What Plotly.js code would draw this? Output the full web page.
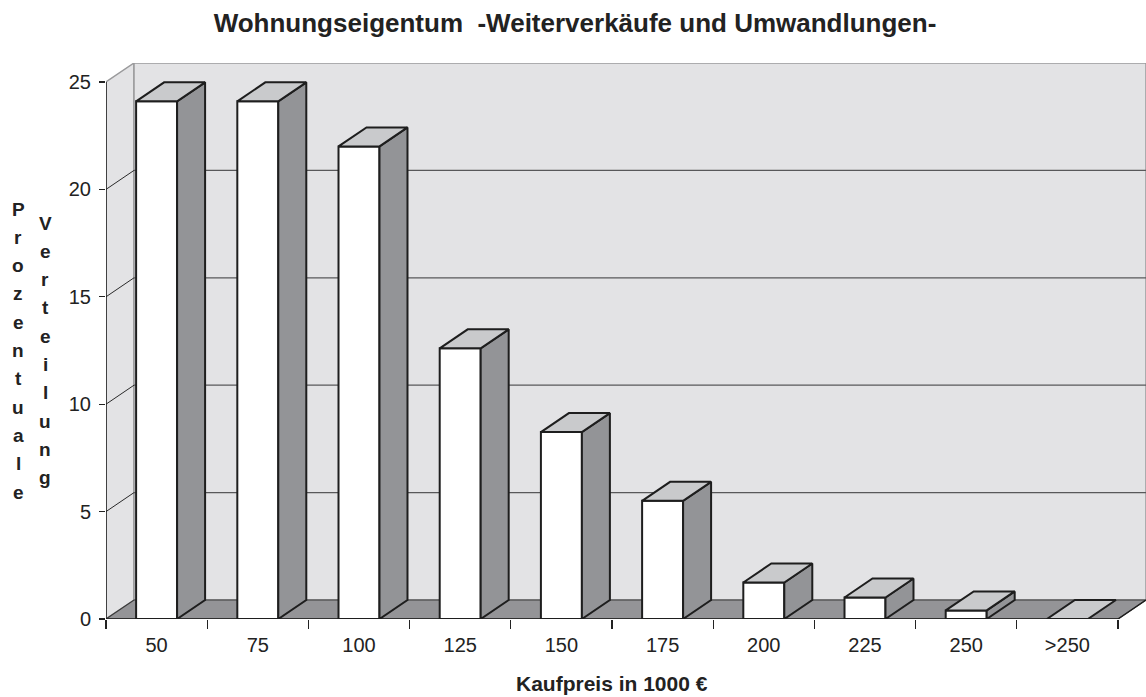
<!DOCTYPE html>
<html>
<head>
<meta charset="utf-8">
<script src="https://cdn.plot.ly/plotly-3.0.1.min.js"></script>
<style>html,body{margin:0;padding:0;background:#fff;}#chart{width:1146px;height:697px;}</style>
</head>
<body>
<div id="chart"></div>
<script>
// ---- data ----
var categories = ['50', '75', '100', '125', '150', '175', '200', '225', '250', '>250'];
var shares = [24.1, 24.1, 22.0, 12.6, 8.7, 5.5, 1.7, 1.0, 0.4, 0];
var yTicks = [0, 5, 10, 15, 20, 25];
var titleText = 'Wohnungseigentum \u00a0-Weiterverkäufe und Umwandlungen-';
var xTitle = 'Kaufpreis in 1000 €';
var yTitle1 = 'Prozentuale';
var yTitle2 = 'Verteilung';

// ---- 3D geometry (depth offset in axis units) ----
var DX = 0.2767, DY = 0.8845, BW = 0.405;
var YMAX = 25;
var n = categories.length;
var xs = categories.map(function (c, i) { return i; });

// side and top faces of each bar
var sideX = [], sideY = [], topX = [], topY = [];
shares.forEach(function (v, i) {
  var l = i - BW / 2, r = i + BW / 2;
  if (v > 0) {
    sideX.push(r, r, r + DX, r + DX, r, null);
    sideY.push(0, v, v + DY, DY, 0, null);
  }
  topX.push(l, r, r + DX, l + DX, l, null);
  topY.push(v, v, v + DY, v + DY, v, null);
});

var edge = '#1e1e1e';
var traces = [
  { type: 'bar', x: xs, y: shares, width: BW,
    marker: { color: '#ffffff', line: { color: edge, width: 2 } },
    hoverinfo: 'skip', showlegend: false },
  { type: 'scatter', mode: 'lines', x: sideX, y: sideY, fill: 'toself', fillcolor: '#939497',
    line: { color: edge, width: 2 }, hoverinfo: 'skip', showlegend: false },
  { type: 'scatter', mode: 'lines', x: topX, y: topY, fill: 'toself', fillcolor: '#c9cacc',
    line: { color: edge, width: 2 }, hoverinfo: 'skip', showlegend: false },
  { type: 'scatter', mode: 'markers', x: [0], y: [0], xaxis: 'x2', yaxis: 'y',
    marker: { opacity: 0 }, hoverinfo: 'skip', showlegend: false }
];

var x0 = -0.5, x1 = n - 0.5;
var shapes = [
  // side wall
  { type: 'path', xref: 'x', yref: 'y', layer: 'below',
    path: 'M' + x0 + ',0 L' + (x0 + DX) + ',' + DY + ' L' + (x0 + DX) + ',' + (YMAX + DY) + ' L' + x0 + ',' + YMAX + ' Z',
    fillcolor: '#e3e3e5', line: { color: '#9a9a9c', width: 1.5 } },
  // back wall
  { type: 'rect', xref: 'x', yref: 'y', layer: 'below',
    x0: x0 + DX, x1: x1 + DX, y0: DY, y1: YMAX + DY,
    fillcolor: '#e3e3e5', line: { color: '#9a9a9c', width: 1.5 } },
  // floor
  { type: 'path', xref: 'x', yref: 'y', layer: 'below',
    path: 'M' + x0 + ',0 L' + x1 + ',0 L' + (x1 + DX) + ',' + DY + ' L' + (x0 + DX) + ',' + DY + ' Z',
    fillcolor: '#949497', line: { color: '#3a3a3a', width: 1.2 } }
];
yTicks.forEach(function (t) {
  if (t > 0 && t < YMAX) {
    shapes.push({ type: 'line', xref: 'x', yref: 'y', layer: 'below',
      x0: x0 + DX, x1: x1 + DX, y0: t + DY, y1: t + DY, line: { color: '#58585a', width: 1.3 } });
    shapes.push({ type: 'line', xref: 'x', yref: 'y', layer: 'below',
      x0: x0, x1: x0 + DX, y0: t, y1: t + DY, line: { color: '#2a2a2a', width: 1 } });
  }
});
// front axis lines
shapes.push({ type: 'line', xref: 'x', yref: 'y', layer: 'below', x0: x0, x1: x0, y0: 0, y1: YMAX, line: { color: '#1e1e1e', width: 1.5 } });
shapes.push({ type: 'line', xref: 'x', yref: 'y', layer: 'below', x0: x0, x1: x1, y0: 0, y1: 0, line: { color: '#1e1e1e', width: 1.5 } });
shapes.push({ type: 'line', xref: 'x', yref: 'y', layer: 'below', x0: x1, x1: x1 + DX, y0: 0, y1: DY, line: { color: '#1e1e1e', width: 1.3 } });

// vertical stacked y-axis title letters (pixel placement converted to paper coords)
var plotTop = 63, plotBottom = 619, plotLeft = 106, plotW = 1040, plotH = 556;
function px(xp) { return (xp - plotLeft) / plotW; }
function py(yp) { return (plotBottom - yp) / plotH; }
var font = 'Liberation Sans, Arial, Helvetica, sans-serif';
var annotations = [];
function stack(word, xc, y0p, step) {
  word.split('').forEach(function (ch, k) {
    annotations.push({ text: '<b>' + ch + '</b>', xref: 'paper', yref: 'paper',
      x: px(xc), y: py(y0p + k * step), xanchor: 'center', yanchor: 'middle',
      showarrow: false, font: { family: font, size: 19, color: '#222' } });
  });
}
stack(yTitle1, 18, 209, 28.3);
stack(yTitle2, 45, 223, 28.3);
annotations.push({ text: '<b>' + xTitle + '</b>', xref: 'x', yref: 'paper',
  x: (n - 1) / 2, y: py(683), xanchor: 'center', yanchor: 'middle', showarrow: false,
  font: { family: font, size: 21, color: '#222' } });

var layout = {
  width: 1146, height: 697,
  margin: { l: plotLeft, r: 0, t: plotTop, b: 697 - plotBottom, pad: 0 },
  paper_bgcolor: '#ffffff', plot_bgcolor: '#ffffff',
  showlegend: false,
  title: { text: '<b>' + titleText + '</b>', xref: 'paper', x: px(575), xanchor: 'center',
    yref: 'container', y: 1 - 23 / 697, yanchor: 'middle',
    font: { family: font, size: 26, color: '#222' } },
  xaxis: { range: [x0, x1 + DX], tickvals: xs, ticktext: categories, ticks: '',
    showgrid: false, zeroline: false, showline: false, fixedrange: true,
    ticklabelstandoff: 12, tickfont: { family: font, size: 20, color: '#222' } },
  xaxis2: { overlaying: 'x', anchor: 'y', side: 'bottom', range: [x0, x1 + DX],
    tickvals: xs.map(function (i) { return i - 0.5; }).concat([x1]), showticklabels: false,
    ticks: 'outside', ticklen: 9, tickwidth: 1.3, tickcolor: '#222',
    showgrid: false, zeroline: false, showline: false, fixedrange: true },
  yaxis: { range: [0, YMAX + DY], tickvals: yTicks, ticks: 'outside', ticklen: 6, tickwidth: 1.3,
    tickcolor: '#222', showgrid: false, zeroline: false, showline: false, fixedrange: true,
    ticklabelstandoff: 4, tickfont: { family: font, size: 20, color: '#222' } },
  shapes: shapes,
  annotations: annotations
};

Plotly.newPlot('chart', traces, layout, { displayModeBar: false, staticPlot: true });
</script>
</body>
</html>
